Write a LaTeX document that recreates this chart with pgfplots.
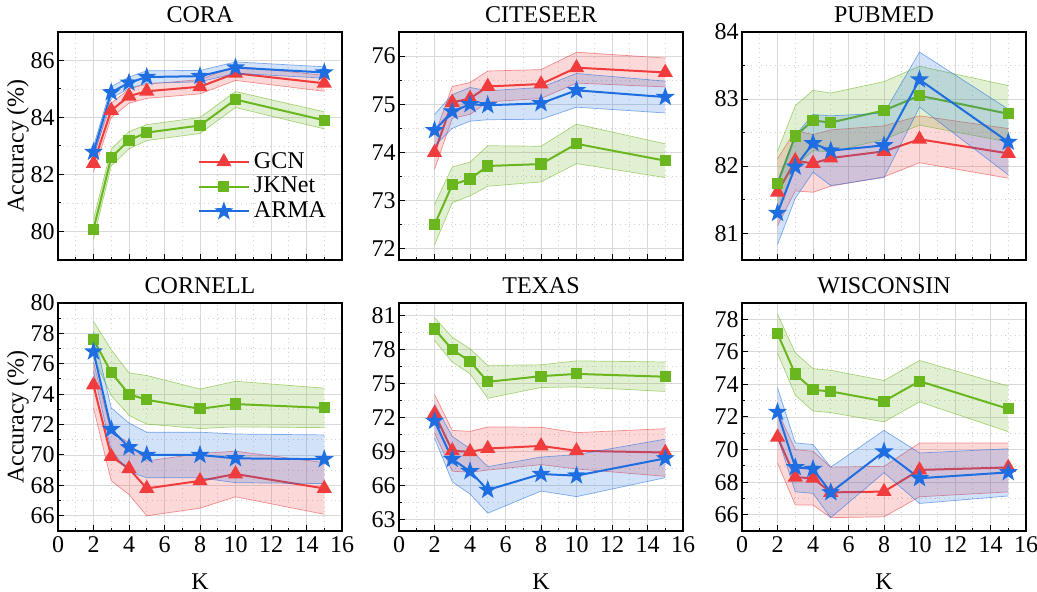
\documentclass[border=0pt]{standalone}
\usepackage{fontspec}
\setmainfont{Liberation Serif}
\usepackage{pgfplots}
\pgfplotsset{compat=1.18}
\usepackage{pgfplotstable}

\definecolor{cg}{RGB}{240,60,60}
\definecolor{cj}{RGB}{106,182,30}
\definecolor{ca}{RGB}{30,110,225}

\pgfdeclareplotmark{fstar}{%
 \pgfpathmoveto{\pgfqpoint{0pt}{\pgfplotmarksize}}%
 \pgfpathlineto{\pgfqpoint{-0.235\pgfplotmarksize}{0.324\pgfplotmarksize}}%
 \pgfpathlineto{\pgfqpoint{-0.951\pgfplotmarksize}{0.309\pgfplotmarksize}}%
 \pgfpathlineto{\pgfqpoint{-0.380\pgfplotmarksize}{-0.124\pgfplotmarksize}}%
 \pgfpathlineto{\pgfqpoint{-0.588\pgfplotmarksize}{-0.809\pgfplotmarksize}}%
 \pgfpathlineto{\pgfqpoint{0pt}{-0.4\pgfplotmarksize}}%
 \pgfpathlineto{\pgfqpoint{0.588\pgfplotmarksize}{-0.809\pgfplotmarksize}}%
 \pgfpathlineto{\pgfqpoint{0.380\pgfplotmarksize}{-0.124\pgfplotmarksize}}%
 \pgfpathlineto{\pgfqpoint{0.951\pgfplotmarksize}{0.309\pgfplotmarksize}}%
 \pgfpathlineto{\pgfqpoint{0.235\pgfplotmarksize}{0.324\pgfplotmarksize}}%
 \pgfpathclose\pgfusepathqfillstroke}

\pgfplotstableread{
K g gs j js a as
2 82.39 0.30 80.08 0.35 82.79 0.20
3 84.25 0.25 82.60 0.30 84.88 0.20
4 84.75 0.25 83.20 0.30 85.22 0.20
5 84.92 0.25 83.47 0.28 85.42 0.22
8 85.08 0.25 83.72 0.28 85.45 0.20
10 85.55 0.25 84.63 0.28 85.75 0.20
15 85.20 0.28 83.90 0.30 85.58 0.20
}\cora
\pgfplotstableread{
K g gs j js a as
2 74.00 0.35 72.50 0.42 74.46 0.33
3 75.04 0.33 73.33 0.37 74.85 0.35
4 75.12 0.33 73.45 0.35 75.00 0.35
5 75.37 0.32 73.72 0.42 74.98 0.30
8 75.42 0.30 73.76 0.37 75.02 0.33
10 75.76 0.32 74.18 0.41 75.29 0.35
15 75.66 0.30 73.83 0.35 75.15 0.33
}\citeseer
\pgfplotstableread{
K g gs j js a as
2 81.61 0.50 81.74 0.48 81.30 0.47
3 82.08 0.45 82.45 0.45 81.99 0.47
4 82.04 0.43 82.68 0.45 82.34 0.43
5 82.12 0.42 82.65 0.44 82.23 0.52
8 82.22 0.38 82.83 0.43 82.31 0.48
10 82.40 0.35 83.05 0.44 83.29 0.41
15 82.19 0.37 82.78 0.42 82.36 0.49
}\pubmed
\pgfplotstableread{
K g gs j js a as
2 74.60 1.50 77.60 1.20 76.80 1.30
3 69.90 1.60 75.42 1.50 71.70 1.40
4 69.10 1.70 74.00 1.40 70.50 1.60
5 67.80 1.80 73.63 1.60 70.00 1.50
8 68.30 1.80 73.04 1.30 70.00 1.50
10 68.75 1.50 73.35 1.50 69.78 1.60
15 67.80 1.70 73.10 1.30 69.72 1.60
}\cornell
\pgfplotstableread{
K g gs j js a as
2 72.35 1.70 79.80 1.00 71.70 1.50
3 69.07 1.80 77.99 1.10 68.34 2.00
4 68.98 1.80 76.96 1.10 67.26 2.00
5 69.27 1.90 75.15 1.45 65.62 2.05
8 69.50 1.65 75.65 1.00 67.02 1.50
10 69.07 1.60 75.85 1.15 66.88 1.85
15 68.92 2.10 75.60 1.30 68.40 1.70
}\texas
\pgfplotstableread{
K g gs j js a as
2 70.76 1.60 77.12 1.20 72.30 1.50
3 68.30 1.70 74.64 1.30 68.91 1.50
4 68.24 1.65 73.67 1.30 68.81 1.50
5 67.37 1.55 73.57 1.30 67.37 1.55
8 67.42 1.55 72.97 1.27 69.88 1.30
10 68.75 1.65 74.20 1.27 68.24 1.55
15 68.90 1.50 72.50 1.40 68.60 1.45
}\wisconsin

% band as stacked area: lower edge (stacked), band width (stacked, filled), upper edge, mean line
% #1 table, #2 mean col, #3 std col, #4 colour, #5 mark options, #6 previous stack level
\newcommand{\ser}[6]{%
\addplot[stack plots=y, draw=#4, draw opacity=0.55, line width=0.35pt, forget plot]
  table[x=K, y expr=\thisrow{#2}-\thisrow{#3}-(#6)]{#1};
\addplot[stack plots=y, fill=#4, fill opacity=0.2, draw=none, forget plot]
  table[x=K, y expr=2*\thisrow{#3}]{#1} \closedcycle;
\addplot[stack plots=false, draw=#4, draw opacity=0.55, line width=0.35pt, forget plot]
  table[x=K, y expr=\thisrow{#2}+\thisrow{#3}]{#1};
\addplot[stack plots=false, #4, line width=1pt, #5] table[x=K, y=#2]{#1};
}
\newcommand{\allser}[1]{%
\ser{#1}{g}{gs}{cg}{mark=triangle*, mark size=3.4pt}{0}
\ser{#1}{j}{js}{cj}{mark=square*, mark size=2.3pt}{\thisrow{g}+\thisrow{gs}}
\ser{#1}{a}{as}{ca}{mark=fstar, mark size=3.5pt}{\thisrow{j}+\thisrow{js}}
}

\pgfplotsset{panel/.style={
 width=142pt, height=114pt, scale only axis, anchor=north west,
 xmin=0, xmax=16, xtick={0,2,...,16}, minor x tick num=1,
 reverse stacked plots=false,
 grid=both,
 major grid style={line width=0.45pt, draw=black!15},
 minor grid style={line width=0.35pt, draw=black!18, dotted},
 axis line style={line width=0.7pt},
 xtick pos=bottom, ytick pos=left,
 tick style={black, line width=0.5pt}, major tick length=3pt, minor tick length=1.6pt,
 tick label style={font=\fontsize{12}{14}\selectfont, inner xsep=1pt, inner ysep=2.5pt, overlay},
 yticklabel style={xshift=-0.5pt},
 /pgf/number format/assume math mode=true,
 title style={font=\fontsize{12}{14}\selectfont, at={(0.5,1)}, anchor=center, yshift=2.75pt, inner sep=0pt, overlay},
 label style={font=\fontsize{12}{14}\selectfont, inner sep=0pt, overlay},
 ylabel style={at={(axis description cs:-0.141,0.5)}, anchor=center},
 xlabel style={at={(axis description cs:0.5,-0.22)}, anchor=center},
 legend style={draw=none, fill=none, font=\fontsize{12}{14}\selectfont, row sep=-1pt,
   at={(0.484,0.50)}, anchor=north west, inner sep=1pt},
 legend cell align=left,
 legend image code/.code={\draw[mark repeat=2, mark phase=2] plot coordinates {(0cm,0cm) (0.44cm,0cm) (0.88cm,0cm)};},
},
toprow/.style={panel, xticklabels={}},
botrow/.style={panel, xlabel={K}},
}

\begin{document}
\begin{tikzpicture}

\begin{axis}[toprow, at={(29pt,-16pt)}, title={CORA}, ylabel={Accuracy (\%)},
  ymin=79, ymax=87, ytick={80,82,84,86}, minor y tick num=1]
\allser{\cora}
\legend{GCN,JKNet,ARMA}
\end{axis}

\begin{axis}[toprow, at={(199.5pt,-16pt)}, title={CITESEER},
  ymin=71.77, ymax=76.5, ytick={72,73,74,75,76}, minor y tick num=1]
\allser{\citeseer}
\end{axis}

\begin{axis}[toprow, at={(371pt,-16pt)}, title={PUBMED},
  ymin=80.6, ymax=84, ytick={81,82,83,84}, minor y tick num=1]
\allser{\pubmed}
\end{axis}

\begin{axis}[botrow, at={(29pt,-151.5pt)}, title={CORNELL}, ylabel={Accuracy (\%)},
  ymin=65, ymax=80, ytick={66,68,...,80}, minor y tick num=1]
\allser{\cornell}
\end{axis}

\begin{axis}[botrow, at={(199.5pt,-151.5pt)}, title={TEXAS},
  ymin=62, ymax=82.1, ytick={63,66,...,81}, minor y tick num=1]
\allser{\texas}
\end{axis}

\begin{axis}[botrow, at={(371pt,-151.5pt)}, title={WISCONSIN},
  ymin=65, ymax=79, ytick={66,68,...,78}, minor y tick num=1]
\allser{\wisconsin}
\end{axis}

\path (0,0) rectangle (518.5pt,-296pt);
\end{tikzpicture}
\end{document}
